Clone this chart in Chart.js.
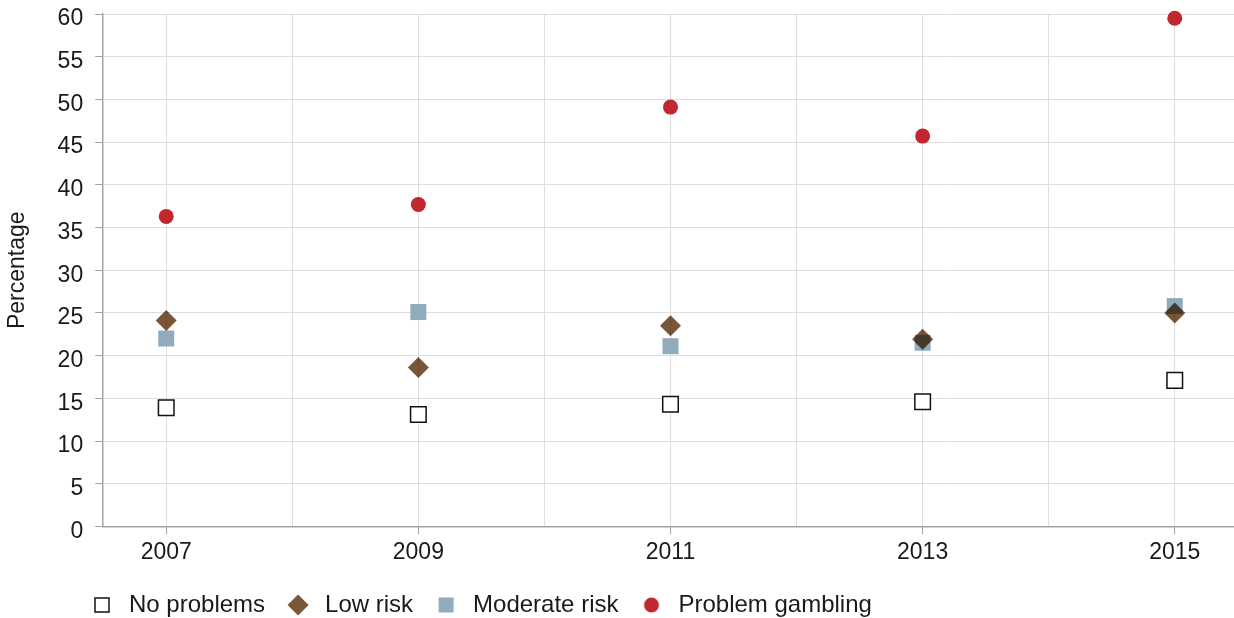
<!DOCTYPE html>
<html>
<head>
<meta charset="utf-8">
<script src="https://cdn.jsdelivr.net/npm/chart.js@4/dist/chart.umd.min.js"></script>
<style>
  html, body { margin: 0; padding: 0; background: #fff; }
  #wrap { width: 1234px; height: 618px; }
</style>
</head>
<body>
<div id="wrap"><canvas id="chart"></canvas></div>
<script>
// Survey years and the yearly grid positions
const YEARS = [2007, 2009, 2011, 2013, 2015];
const GRID_YEARS = [2007, 2008, 2009, 2010, 2011, 2012, 2013, 2014, 2015];

// Percentage per gambling group
const NO_PROBLEMS = [13.9, 13.1, 14.3, 14.6, 17.1];
const LOW_RISK = [24.1, 18.6, 23.5, 21.9, 25.0];
const MODERATE_RISK = [22.0, 25.1, 21.1, 21.5, 25.8];
const PROBLEM_GAMBLING = [36.3, 37.7, 49.1, 45.7, 59.5];

const FONT = "'Liberation Sans', Arial, Helvetica, sans-serif";
const COLORS = {
    text: '#1a1a1a',
    grid: '#dedede',
    axis: '#a3a3a3',
    lowRisk: '#7a5636',
    moderate: '#8fabbc',
    problem: '#c1272f',
};

const toPoints = values => values.map((v, i) => ({ x: YEARS[i], y: v }));

// Small canvases for the legend glyphs (sizes differ per glyph)
function legendIcon(kind, fill) {
    const c = document.createElement('canvas');
    c.width = 24;
    c.height = 24;
    const g = c.getContext('2d');
    g.fillStyle = fill;
    if (kind === 'hollow') {
        g.strokeStyle = '#111';
        g.lineWidth = 1.5;
        g.fillStyle = '#fff';
        g.fillRect(5, 5, 14, 14);
        g.strokeRect(5, 5, 14, 14);
    } else if (kind === 'diamond') {
        g.beginPath();
        g.moveTo(12, 1.5);
        g.lineTo(22.5, 12);
        g.lineTo(12, 22.5);
        g.lineTo(1.5, 12);
        g.closePath();
        g.fill();
    } else if (kind === 'square') {
        g.fillRect(4.5, 4.5, 15, 15);
    } else {
        g.beginPath();
        g.arc(12, 12, 7.5, 0, Math.PI * 2);
        g.fill();
    }
    return c;
}

const datasets = [
    {
        label: 'No problems',
        data: toPoints(NO_PROBLEMS),
        pointStyle: 'rect',
        pointRadius: 11,
        pointBackgroundColor: '#fff',
        pointBorderColor: '#111',
        pointBorderWidth: 1.5,
        icon: legendIcon('hollow', '#fff'),
    },
    {
        label: 'Low risk',
        data: toPoints(LOW_RISK),
        pointStyle: 'rectRot',
        pointRadius: 10.5,
        pointBackgroundColor: COLORS.lowRisk,
        pointBorderWidth: 0,
        icon: legendIcon('diamond', COLORS.lowRisk),
        multiply: true,
    },
    {
        label: 'Moderate risk',
        data: toPoints(MODERATE_RISK),
        pointStyle: 'rect',
        pointRadius: 11.3,
        pointBackgroundColor: COLORS.moderate,
        pointBorderWidth: 0,
        icon: legendIcon('square', COLORS.moderate),
    },
    {
        label: 'Problem gambling',
        data: toPoints(PROBLEM_GAMBLING),
        pointStyle: 'circle',
        pointRadius: 7.5,
        pointBackgroundColor: COLORS.problem,
        pointBorderWidth: 0,
        icon: legendIcon('circle', COLORS.problem),
    },
].map(d => ({ ...d, showLine: false, clip: false, pointHoverRadius: d.pointRadius }));

// Overlapping diamonds darken the squares underneath, like the original
const blendPlugin = {
    id: 'blend',
    beforeDatasetDraw(chart, args) {
        chart.ctx.save();
        if (chart.data.datasets[args.index].multiply) {
            chart.ctx.globalCompositeOperation = 'multiply';
        }
    },
    afterDatasetDraw(chart) {
        chart.ctx.restore();
    },
};

// Legend sits under the plot, starting a little right of the canvas edge
const legendShift = {
    id: 'legendShift',
    afterLayout(chart) {
        const lg = chart.legend;
        lg.left += 69;
        lg.top += 9;
        lg.bottom += 9;
    },
};

new Chart(document.getElementById('chart'), {
    type: 'scatter',
    data: { datasets },
    plugins: [blendPlugin, legendShift],
    options: {
        responsive: true,
        maintainAspectRatio: false,
        animation: false,
        layout: { autoPadding: false, padding: 0 },
        plugins: {
            tooltip: { enabled: false },
            legend: {
                position: 'bottom',
                align: 'start',
                labels: {
                    usePointStyle: true,
                    pointStyleWidth: 30,
                    boxWidth: 30,
                    padding: 18,
                    color: COLORS.text,
                    font: { size: 24, family: FONT },
                    generateLabels(chart) {
                        return chart.data.datasets.map((d, i) => ({
                            text: d.label,
                            pointStyle: d.icon,
                            fillStyle: 'transparent',
                            strokeStyle: 'transparent',
                            lineWidth: 0,
                            fontColor: COLORS.text,
                            datasetIndex: i,
                            hidden: false,
                        }));
                    },
                },
            },
        },
        scales: {
            x: {
                type: 'linear',
                min: 2006.5,
                max: 2015.47,
                afterBuildTicks(axis) {
                    axis.ticks = GRID_YEARS.map(v => ({ value: v }));
                },
                afterFit(axis) {
                    axis.height -= 4;
                },
                grid: {
                    color: COLORS.grid,
                    tickLength: 8,
                    tickColor: ctx => (ctx.tick && ctx.tick.value % 2 === 1) ? COLORS.axis : 'transparent',
                },
                border: { color: COLORS.axis, width: 1.5 },
                ticks: {
                    color: COLORS.text,
                    font: { size: 23, family: FONT },
                    padding: 4,
                    maxRotation: 0,
                    autoSkip: false,
                    callback: v => (v % 2 === 1 ? String(v) : ''),
                },
            },
            y: {
                min: 0,
                max: 60,
                afterFit(axis) {
                    // top label only needs half its height above the plot
                    axis.paddingTop = 14;
                },
                title: {
                    display: true,
                    text: 'Percentage',
                    color: COLORS.text,
                    font: { size: 23, family: FONT },
                    padding: { top: 4, bottom: 14 },
                },
                grid: {
                    color: COLORS.grid,
                    tickLength: 8,
                    tickColor: COLORS.axis,
                },
                border: { color: COLORS.axis, width: 1.5 },
                ticks: {
                    stepSize: 5,
                    color: COLORS.text,
                    font: { size: 23, family: FONT },
                    padding: 12,
                    labelOffset: 5,
                },
            },
        },
    },
});
</script>
</body>
</html>
